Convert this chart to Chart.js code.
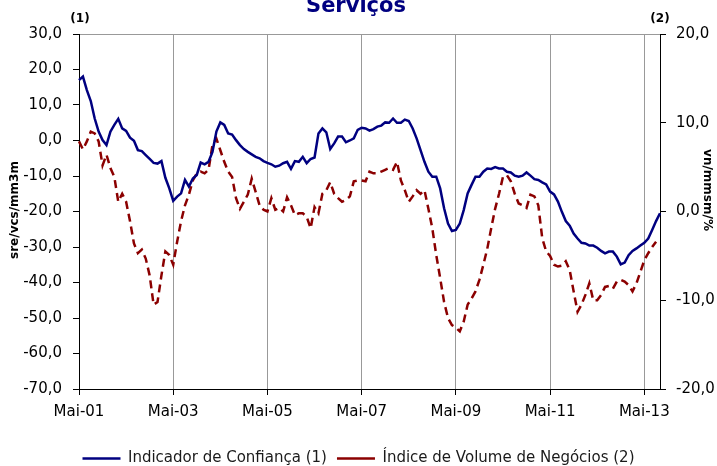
<!DOCTYPE html>
<html>
<head>
<meta charset="utf-8">
<script src="https://cdn.jsdelivr.net/npm/chart.js@4"></script>
<style>
  html, body { margin: 0; padding: 0; background: #fff; }
  #wrap { width: 717px; height: 466px; }
</style>
</head>
<body>
<div id="wrap"><canvas id="myChart" width="717" height="466"></canvas></div>
<script>
// monthly, Mai-01 .. Set-13
const firstYear = 2001;
const firstMonth = 4; // Mai
const monthNames = ["Jan", "Fev", "Mar", "Abr", "Mai", "Jun", "Jul", "Ago", "Set", "Out", "Nov", "Dez"];

// Indicador de Confiança (1), left axis
const confianca = [
  17.0, 18.0, 14.2, 11.1, 6.2, 2.5, 0.1, -1.3, 2.5, 4.4,
  6.1, 3.4, 2.7, 0.8, -0.1, -2.7, -3.0, -4.1, -5.2, -6.3,
  -6.5, -5.8, -10.5, -13.5, -17.0, -15.8, -14.9, -11.1, -13.0, -10.7,
  -9.7, -6.2, -6.7, -6.0, -3.2, 2.5, 5.1, 4.4, 2.0, 1.7,
  0.1, -1.3, -2.4, -3.2, -3.9, -4.6, -5.0, -5.8, -6.3, -6.7,
  -7.4, -7.1, -6.4, -6.0, -8.0, -5.8, -6.0, -4.6, -6.4, -5.2,
  -4.8, 2.0, 3.4, 2.3, -2.4, -0.8, 1.1, 1.1, -0.5, 0.0,
  0.6, 3.0, 3.6, 3.4, 2.8, 3.2, 3.9, 4.2, 5.1, 5.0,
  6.2, 5.0, 5.0, 5.9, 5.5, 3.4, 0.6, -2.7, -6.0, -8.8,
  -10.2, -10.2, -13.5, -19.1, -23.4, -25.5, -25.2, -23.4, -19.6, -14.9,
  -12.5, -10.2, -10.2, -8.8, -7.9, -8.0, -7.5, -7.9, -7.9, -8.8,
  -9.0, -9.9, -10.2, -9.9, -9.0, -9.9, -10.9, -11.1, -11.8, -12.4,
  -14.4, -15.2, -17.2, -20.1, -22.7, -24.0, -26.2, -27.6, -28.8, -29.0,
  -29.6, -29.6, -30.2, -31.1, -31.8, -31.3, -31.3, -32.7, -34.9, -34.4,
  -32.3, -31.1, -30.4, -29.6, -28.8, -27.6, -25.2, -22.7, -20.5
];

// Índice de Volume de Negócios (2), right axis
const volume = [
  7.9, 7.0, 7.9, 9.0, 8.8, 7.9, 5.2, 6.4, 4.9, 3.9,
  1.1, 2.0, 1.1, -1.1, -3.6, -4.7, -4.3, -5.3, -7.2, -10.5,
  -10.2, -7.2, -4.5, -4.9, -6.0, -3.4, -1.1, 0.7, 1.9, 3.5,
  4.3, 4.5, 4.3, 4.7, 7.5, 8.2, 6.9, 5.6, 4.5, 3.9,
  1.5, 0.3, 1.1, 1.9, 3.7, 2.2, 0.7, 0.2, 0.0, 1.5,
  0.2, 0.4, 0.0, 1.6, 0.7, -0.4, -0.2, -0.2, -0.6, -1.9,
  0.5, -0.2, 2.0, 2.4, 3.3, 2.0, 1.5, 1.1, 1.3, 1.7,
  3.4, 3.5, 3.5, 3.4, 4.5, 4.3, 4.3, 4.5, 4.7, 4.9,
  4.7, 5.6, 3.5, 2.4, 1.1, 1.7, 2.4, 2.0, 2.4, 0.3,
  -1.9, -4.9, -7.5, -10.2, -12.0, -12.8, -13.1, -13.5, -12.4, -10.5,
  -9.8, -9.0, -7.7, -6.0, -4.2, -1.9, 0.3, 2.0, 3.9, 4.1,
  3.4, 2.0, 0.9, 0.7, 0.4, 1.9, 1.7, 0.7, -3.0, -4.5,
  -5.0, -6.0, -6.2, -6.1, -5.6, -6.6, -9.0, -11.3, -10.5, -9.4,
  -8.1, -10.0, -10.0, -9.4, -8.5, -8.4, -8.7, -7.9, -7.7, -7.9,
  -8.3, -9.0, -8.1, -6.8, -5.5, -4.7, -4.0, -3.4, null
];

const labels = confianca.map((v, i) => {
  const m = firstMonth + i;
  const yy = firstYear + Math.floor(m / 12);
  return monthNames[m % 12] + "-" + String(yy % 100).padStart(2, "0");
});

const fmt = v => v.toFixed(1).replace(".", ",");
const tickFont = { family: "DejaVu Sans", size: 15 };

// title, (1)/(2) marks and the axis titles
const decor = {
  id: "decor",
  afterDraw(chart) {
    const ctx = chart.ctx;
    const area = chart.chartArea;
    ctx.save();
    ctx.fillStyle = "#000080";
    ctx.font = "bold 21px 'DejaVu Sans'";
    ctx.textAlign = "center";
    ctx.textBaseline = "alphabetic";
    ctx.fillText("Serviços", 356, 12);

    ctx.fillStyle = "#000";
    ctx.font = "bold 12px 'DejaVu Sans'";
    ctx.textBaseline = "middle";
    ctx.fillText("(1)", area.left + 1, 19);
    ctx.fillText("(2)", area.right, 19);

    ctx.translate(15, 210);
    ctx.rotate(-Math.PI / 2);
    ctx.fillText("sre/vcs/mm3m", 0, 0);
    ctx.restore();

    ctx.save();
    ctx.fillStyle = "#000";
    ctx.font = "bold 12px 'DejaVu Sans'";
    ctx.textAlign = "center";
    ctx.textBaseline = "middle";
    ctx.translate(707, 190);
    ctx.rotate(Math.PI / 2);
    ctx.fillText("vn/mmsm/%", 0, 0);
    ctx.restore();
  }
};

new Chart(document.getElementById("myChart"), {
  type: "line",
  data: {
    labels: labels,
    datasets: [
      {
        label: "Indicador de Confiança (1)",
        data: confianca,
        yAxisID: "y",
        borderColor: "#000080",
        backgroundColor: "#000080",
        borderWidth: 2.5,
        pointRadius: 0,
        tension: 0
      },
      {
        label: "Índice de Volume de Negócios (2)",
        data: volume,
        yAxisID: "y2",
        borderColor: "#8b0000",
        backgroundColor: "#8b0000",
        borderWidth: 2.5,
        borderDash: [8, 5],
        pointRadius: 0,
        tension: 0
      }
    ]
  },
  options: {
    responsive: false,
    animation: false,
    layout: { padding: { top: 34, left: 0, right: 0, bottom: -10 } },
    plugins: {
      title: { display: false },
      tooltip: { enabled: false },
      legend: {
        position: "bottom",
        labels: {
          usePointStyle: true,
          pointStyle: "line",
          pointStyleWidth: 38,
          padding: 10,
          color: "#1a1a1a",
          font: { family: "DejaVu Sans", size: 15 }
        }
      }
    },
    scales: {
      x: {
        type: "category",
        afterFit: s => { s.height = 52; },
        border: { display: true, color: "#000", width: 1 },
        grid: {
          color: c => (c.tick && c.tick.label && c.tick.value > 0 ? "#999" : "transparent"),
          tickColor: c => (c.tick && c.tick.label ? "#000" : "transparent"),
          tickLength: 6,
          drawTicks: true
        },
        ticks: {
          autoSkip: false,
          maxRotation: 0,
          padding: 8,
          color: "#000",
          font: tickFont,
          callback: function (val, index) {
            return index % 24 === 0 ? this.getLabelForValue(val) : null;
          }
        }
      },
      y: {
        position: "left",
        min: -70,
        max: 30,
        afterFit: s => { s.width = 79; },
        border: { display: true, color: "#000", width: 1 },
        grid: {
          color: c => (c.tick && c.tick.value === 30 ? "#999" : "transparent"),
          tickColor: "#000",
          tickLength: 6
        },
        ticks: {
          stepSize: 10,
          padding: 11,
          color: "#000",
          font: tickFont,
          callback: v => fmt(v)
        }
      },
      y2: {
        position: "right",
        min: -20,
        max: 20,
        afterFit: s => { s.width = 57; },
        border: { display: true, color: "#000", width: 1 },
        grid: { drawOnChartArea: false, tickColor: "#000", tickLength: 6 },
        ticks: {
          stepSize: 10,
          padding: 10,
          color: "#000",
          font: tickFont,
          callback: v => fmt(v)
        }
      }
    }
  },
  plugins: [decor]
});
</script>
</body>
</html>
